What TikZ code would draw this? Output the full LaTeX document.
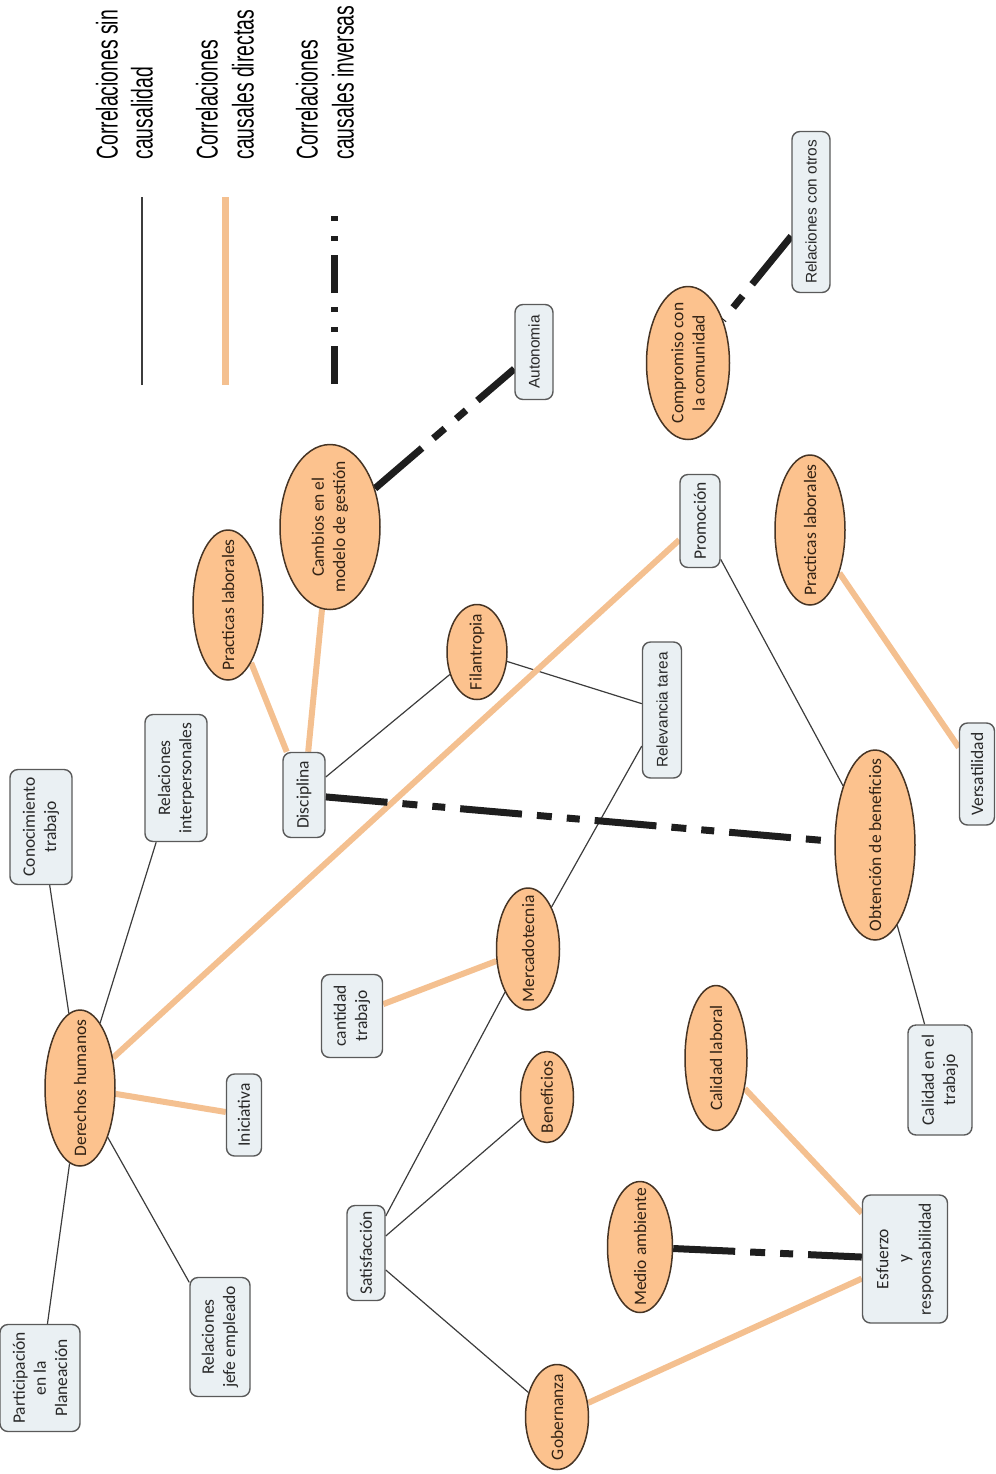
\documentclass[tikz,border=0pt]{standalone}
\usepackage{fontspec}
\setmainfont{Carlito}
\newfontfamily\arialf{Liberation Sans}
\newfontfamily\legf[FakeStretch=0.645]{Liberation Sans}
\usetikzlibrary{shapes.geometric}
\definecolor{ellfill}{RGB}{252,194,142}
\definecolor{ellbd}{RGB}{70,52,36}
\definecolor{elltext}{RGB}{50,34,20}
\definecolor{boxfill}{RGB}{234,240,243}
\definecolor{boxbd}{RGB}{90,90,90}
\definecolor{boxtext}{RGB}{40,40,40}
\definecolor{linec}{RGB}{60,60,60}
\definecolor{orangec}{RGB}{244,192,144}
\definecolor{dashc}{RGB}{30,30,30}
\pgfdeclarelayer{bg}
\pgfsetlayers{bg,main}
\tikzset{
 ell/.style={ellipse, draw=ellbd, fill=ellfill, line width=0.75pt, inner sep=0pt},
 box/.style={rectangle, rounded corners=4pt, draw=boxbd, fill=boxfill, line width=0.7pt, inner sep=0pt},
 lbl/.style={rotate=90, align=center, inner sep=0pt, font=\fontsize{8.75}{10.6}\selectfont},
 albl/.style={rotate=90, align=center, inner sep=0pt, font=\arialf\fontsize{7.7}{9.5}\selectfont},
 plain/.style={draw=linec, line width=0.6pt},
 direct/.style={draw=orangec, line width=3pt},
 inverse/.style={draw=dashc, line width=3.5pt, dash pattern=on 31pt off 7.5pt on 7.5pt off 7.5pt on 6.5pt off 7.5pt},
 legtext/.style={rotate=90, anchor=west, inner sep=0pt, font=\legf\fontsize{15}{18}\selectfont},
}
\newcommand\EN[6]{\node[ell, minimum width=#4*0.5pt, minimum height=#5*0.5pt] (#1) at (#2,#3) {};
 \node[lbl, text=elltext] at (#1) {#6};}
\newcommand\BN[6]{\node[box, minimum width=#4*0.5pt, minimum height=#5*0.5pt] (#1) at (#2,#3) {};
 \node[lbl, text=boxtext] at (#1) {#6};}
\newcommand\AN[6]{\node[box, minimum width=#4*0.5pt, minimum height=#5*0.5pt] (#1) at (#2,#3) {};
 \node[albl, text=boxtext] at (#1) {#6};}
\begin{document}
\begin{tikzpicture}[x=0.5pt, y=-0.5pt]
\useasboundingbox (0,0) rectangle (996,1474);
% legend
\node[legtext] (l1a) at (107,160) {Correlaciones sin};
\node[legtext] (l1b) at (142,160) {causalidad};
\node[legtext] (l2a) at (207,160) {Correlaciones};
\node[legtext] (l2b) at (243,160) {causales directas};
\node[legtext] (l3a) at (307,160) {Correlaciones};
\node[legtext] (l3b) at (343,160) {causales inversas};
\coordinate (s1) at (142,385); \coordinate (e1) at (142,197);
\coordinate (s2) at (225,385); \coordinate (e2) at (225,197);
\coordinate (s3) at (334,384); \coordinate (e3) at (334,207);
\draw[draw=linec, line width=0.65pt] (s1) -- (e1);
\draw[direct, line width=3.5pt] (s2) -- (e2);
\draw[draw=dashc, line width=3.5pt, dash pattern=on 19pt off 7pt on 2.5pt off 7.5pt on 2.5pt off 7pt] (s3) -- (e3);
% boxes
\BN{conoc}{41}{827}{62}{115}{Conocimiento\\trabajo}
\BN{relint}{176}{778}{62}{127}{Relaciones\\interpersonales}
\BN{partic}{40}{1378}{80}{107}{Participación\\en la\\Planeación}
\BN{jefe}{220}{1337}{60}{119}{Relaciones\\jefe empleado}
\BN{inic}{244}{1115}{35}{82}{Iniciativa}
\BN{disc}{304}{795}{42}{85}{Disciplina}
\AN{relev}{662}{710}{39}{136}{Relevancia tarea}
\BN{promo}{700}{521}{40}{93}{Promoción}
\AN{auton}{534}{352}{38}{95}{Autonomia}
\AN{relotros}{811}{212}{38}{161}{Relaciones con otros}
\BN{versat}{977}{774}{35}{102}{Versatilidad}
\BN{caltrab}{940}{1080}{64}{110}{Calidad en el\\trabajo}
\BN{cant}{352}{1016}{61}{83}{cantidad\\trabajo}
\BN{satis}{366}{1253}{38}{95}{Satisfacción}
\BN{esfu}{905}{1259}{85}{128}{Esfuerzo\\y\\responsabilidad}
% ellipses
\EN{derechos}{80}{1088}{70}{156}{Derechos humanos}
\EN{praclabL}{228}{605}{70}{150}{Practicas laborales}
\EN{cambios}{330}{527}{100}{165}{Cambios en el\\modelo de gestión}
\EN{filan}{477}{652}{60}{95}{Filantropia}
\EN{merca}{528}{949}{63}{122}{Mercadotecnia}
\EN{benef}{547}{1097}{53}{91}{Beneficios}
\EN{callab}{716}{1058}{62}{145}{Calidad laboral}
\EN{medio}{640}{1247}{65}{131}{Medio ambiente}
\EN{gober}{557}{1417}{63}{105}{Gobernanza}
\EN{obten}{875}{845}{80}{190}{Obtención de beneficios}
\EN{praclabR}{810}{530}{70}{150}{Practicas laborales}
\EN{compro}{688}{363}{83}{153}{Compromiso con\\la comunidad}
% connectors
\begin{pgfonlayer}{bg}
\draw[plain] (derechos) -- (conoc);
\draw[plain] (derechos) -- (relint);
\draw[plain] (derechos) -- (partic);
\draw[plain] (derechos) -- (jefe);
\draw[plain] (disc) -- (filan);
\draw[plain] (filan) -- (relev);
\draw[plain] (relev) -- (merca);
\draw[plain] (merca) -- (satis);
\draw[plain] (satis) -- (benef);
\draw[plain] (satis) -- (gober);
\draw[plain] (promo) -- (obten);
\draw[plain] (obten) -- (caltrab);
\draw[direct] (derechos) -- (inic);
\draw[direct] (derechos) -- (promo);
\draw[direct] (disc) -- (praclabL);
\draw[direct] (disc) -- (cambios);
\draw[direct] (merca) -- (cant);
\draw[direct] (callab) -- (esfu);
\draw[direct] (gober) -- (esfu);
\draw[direct] (praclabR) -- (versat);
\draw[inverse] (cambios) -- (auton);
\draw[inverse] (disc) -- (obten);
\draw[inverse] (relotros) -- (compro);
\draw[inverse] (medio) -- (esfu);
\end{pgfonlayer}
\end{tikzpicture}
\end{document}
